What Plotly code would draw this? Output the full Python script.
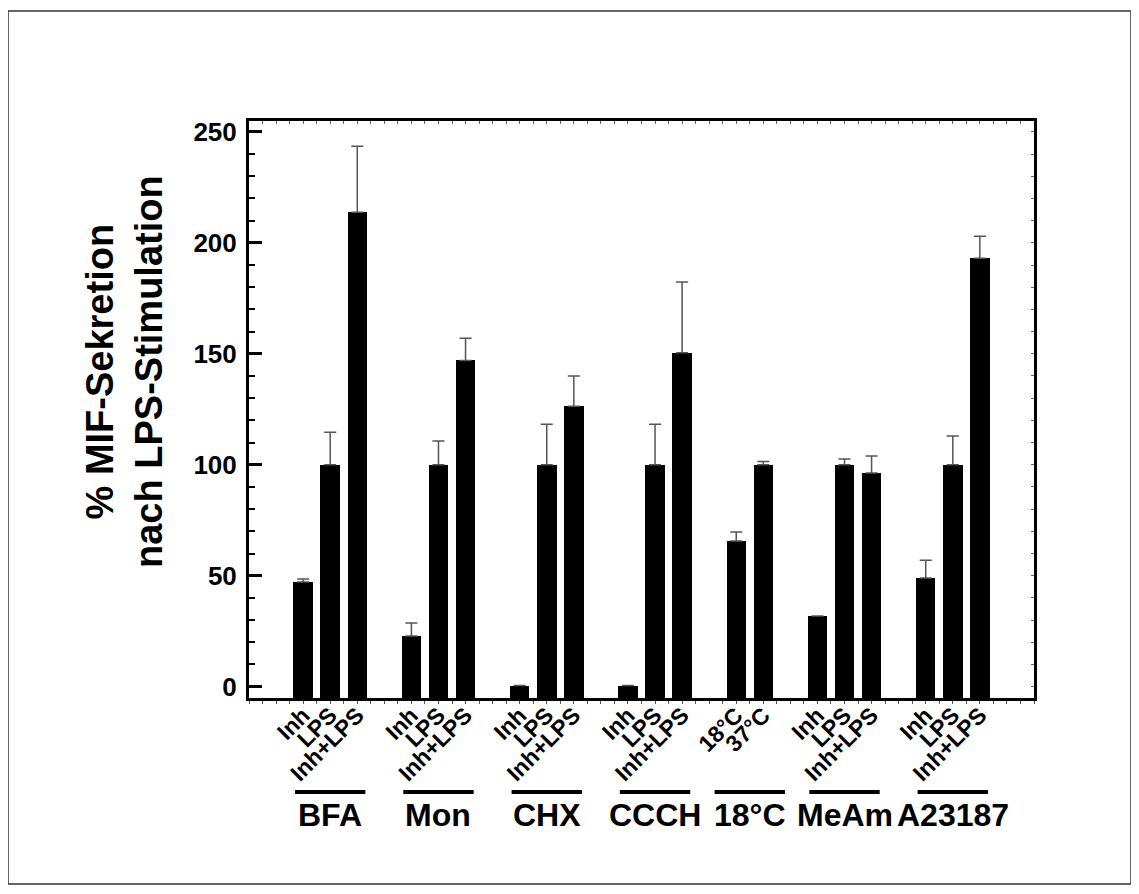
import plotly.graph_objects as go

# ---------------- data ----------------
groups = ["BFA", "Mon", "CHX", "CCCH", "18°C", "MeAm", "A23187"]
bar_labels = [
    ["Inh", "LPS", "Inh+LPS"],
    ["Inh", "LPS", "Inh+LPS"],
    ["Inh", "LPS", "Inh+LPS"],
    ["Inh", "LPS", "Inh+LPS"],
    ["18°C", "37°C"],
    ["Inh", "LPS", "Inh+LPS"],
    ["Inh", "LPS", "Inh+LPS"],
]
values = [
    [47.2, 100, 213.8],
    [22.8, 100, 147.0],
    [0.5, 100, 126.4],
    [0.5, 100, 150.5],
    [65.6, 100],
    [31.8, 100, 96.3],
    [49.0, 100, 193.0],
]
errors = [
    [1.3, 14.7, 29.7],
    [5.9, 10.7, 10.0],
    [None, 18.3, 13.6],
    [None, 18.3, 31.8],
    [4.1, 1.5],
    [None, 2.6, 7.7],
    [8.0, 13.0, 10.0],
]
y_ticks = [0, 50, 100, 150, 200, 250]
y_title = "% MIF-Sekretion<br>nach LPS-Stimulation"

# ---------------- layout constants ----------------
W, H = 1139, 894
OFF = 8                      # page body margin
ML, MT = 241, 113
PW, PH = 785, 577
MR = W - ML - PW
MB = H - MT - PH
Y_MIN, Y_MAX = -5.1, 254.9
X_MIN, X_MAX = -2, 27

def px_x(px):
    return (px - OFF - ML) / PW

def px_y(py):
    return (MT + PH - (py - OFF)) / PH

FONT = "Liberation Sans, Arial, sans-serif"

# slot positions: each group = its bars + one empty slot
xs, ys, es, labels, centers = [], [], [], [], []
slot = 0
for g, lab, val, err in zip(groups, bar_labels, values, errors):
    start = slot
    for l, v, e in zip(lab, val, err):
        xs.append(slot)
        ys.append(v)
        es.append(e)
        labels.append(l)
        slot += 1
    centers.append((start + slot - 1) / 2)
    slot += 1

fig = go.Figure()
fig.add_trace(go.Bar(
    x=xs, y=[v - Y_MIN for v in ys], base=Y_MIN, width=0.72,
    marker=dict(color="black", line=dict(width=0)),
    showlegend=False, hoverinfo="skip",
))
fig.add_trace(go.Scatter(
    x=xs, y=ys, mode="markers", marker=dict(opacity=0, size=1),
    error_y=dict(type="data", symmetric=False, array=es,
                 arrayminus=[0] * len(es), color="#555555",
                 thickness=1.5, width=6),
    showlegend=False, hoverinfo="skip",
))
# dummy trace for the top/right frame axes with tiny ticks
fig.add_trace(go.Scatter(x=[None], y=[None], xaxis="x2", yaxis="y2",
                         showlegend=False, hoverinfo="skip"))

shapes = []
annotations = []
for c, g in zip(centers, groups):
    shapes.append(dict(type="line", xref="x", yref="paper",
                       x0=c - 1.3, x1=c + 1.3, y0=px_y(792), y1=px_y(792),
                       line=dict(color="black", width=4)))
    annotations.append(dict(xref="x", yref="paper", x=c, y=px_y(815),
                            text=g, showarrow=False, yanchor="middle",
                            xanchor="center",
                            font=dict(family=FONT, size=32, color="black",
                                      weight="bold")))
annotations.append(dict(xref="paper", yref="paper", x=px_x(124), y=px_y(372),
                        text=y_title, textangle=-90, showarrow=False,
                        xanchor="center", yanchor="middle",
                        font=dict(family=FONT, size=38, color="black",
                                  weight="bold")))
# outer figure border
shapes.append(dict(type="rect", xref="paper", yref="paper",
                   x0=px_x(8), x1=px_x(1131), y0=px_y(884), y1=px_y(11),
                   line=dict(color="#333333", width=1.5)))

fig.update_layout(
    width=W, height=H,
    margin=dict(l=ML, r=MR, t=MT, b=MB, autoexpand=False),
    paper_bgcolor="white", plot_bgcolor="white",
    bargap=0,
    font=dict(family=FONT, color="black"),
    xaxis=dict(
        range=[X_MIN, X_MAX], tickmode="array", tickvals=xs, ticktext=labels,
        tickangle=-45, ticks="", showgrid=False, zeroline=False,
        showline=True, linecolor="black", linewidth=2.5, mirror=True,
        tickfont=dict(family=FONT, size=23, color="black", weight="bold"),
        ticklabelstandoff=-8,
        minor=dict(ticks="outside", ticklen=3, tickwidth=1,
                   tickcolor="#555555", tick0=X_MIN, dtick=0.5),
        automargin=False,
    ),
    yaxis=dict(
        range=[Y_MIN, Y_MAX], tickmode="array", tickvals=y_ticks,
        ticks="inside", ticklen=13, tickwidth=2.5, tickcolor="black",
        showgrid=False, zeroline=False,
        showline=True, linecolor="black", linewidth=3, mirror=True,
        tickfont=dict(family=FONT, size=26, color="black", weight="bold"),
        ticklabelstandoff=4,
        minor=dict(ticks="inside", ticklen=6, tickwidth=2,
                   tickcolor="black", tick0=0, dtick=10),
        automargin=False,
    ),
    xaxis2=dict(
        overlaying="x", side="top", anchor="y2", range=[X_MIN, X_MAX],
        tickmode="linear", tick0=X_MIN, dtick=0.5, ticks="inside",
        ticklen=3, tickwidth=1, tickcolor="#666666", showticklabels=False,
        showgrid=False, zeroline=False, showline=False,
    ),
    yaxis2=dict(
        overlaying="y", side="right", anchor="x2", range=[Y_MIN, Y_MAX],
        tickmode="linear", tick0=0, dtick=10, ticks="inside",
        ticklen=3, tickwidth=1, tickcolor="#666666", showticklabels=False,
        showgrid=False, zeroline=False, showline=False,
    ),
    shapes=shapes,
    annotations=annotations,
)

fig.write_html("out.html")
